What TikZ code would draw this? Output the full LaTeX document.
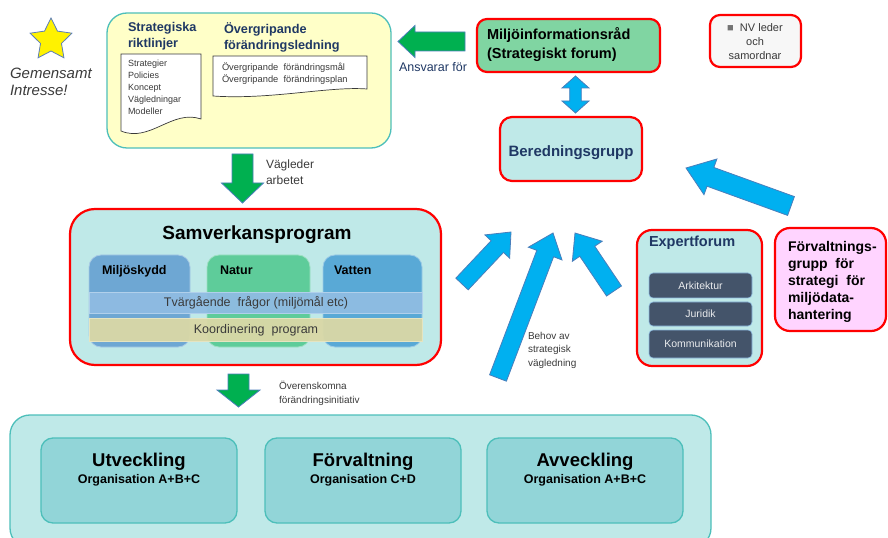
\documentclass[tikz,border=0pt]{standalone}
\usepackage{fontspec}
\setmainfont{Liberation Sans}
\usetikzlibrary{shapes.geometric,calc}
\definecolor{dkblue}{HTML}{1F3864}
\definecolor{tealb}{HTML}{4DBFBA}
\definecolor{lteal}{HTML}{BFE9E8}
\definecolor{ltyellow}{HTML}{FFFFC8}
\definecolor{mgreen}{HTML}{80D5A2}
\definecolor{pinkf}{HTML}{FFD4FF}
\definecolor{slate}{HTML}{44546A}
\definecolor{garrow}{HTML}{00B050}
\definecolor{barrow}{HTML}{00B0F0}
\definecolor{aoutline}{HTML}{4A7EBB}
\definecolor{cmilj}{HTML}{6EA7D3}
\definecolor{cnat}{HTML}{5ECC9A}
\definecolor{cvat}{HTML}{59A9D6}
\definecolor{ctvar}{HTML}{8FBCE2}
\definecolor{ckoord}{HTML}{DAD8A6}
\definecolor{corg}{HTML}{92D5D8}
\definecolor{txtgrey}{HTML}{3A3A3A}
\definecolor{starline}{HTML}{5B7DB9}
\newcommand\fs[1]{\fontsize{#1bp}{#1bp}\selectfont}
\newcommand\bx[6]{\node[#2, anchor=north west, minimum width={(#5-#3)*1bp}, minimum height={(#6-#4)*1bp}] (#1) at (#3,#4) {};}
\newcommand\blockarrow[6]{%
  \coordinate (#2-n) at ($(#3)!#6bp!(#2)$);
  \draw[#1] ($(#2)!#4bp!90:(#3)$) -- ($(#2-n)!#4bp!90:(#3)$) -- ($(#2-n)!#5bp!90:(#3)$) -- (#3)
    -- ($(#2-n)!#5bp!-90:(#3)$) -- ($(#2-n)!#4bp!-90:(#3)$) -- ($(#2)!#4bp!-90:(#3)$) -- cycle;}
\newcommand\dblarrow[6]{%
  \coordinate (#2-n1) at ($(#2)!#6bp!(#3)$);
  \coordinate (#2-n2) at ($(#3)!#6bp!(#2)$);
  \draw[#1] (#2) -- ($(#2-n1)!#5bp!90:(#3)$) -- ($(#2-n1)!#4bp!90:(#3)$) -- ($(#2-n2)!#4bp!90:(#3)$)
    -- ($(#2-n2)!#5bp!90:(#3)$) -- (#3) -- ($(#2-n2)!#5bp!-90:(#3)$) -- ($(#2-n2)!#4bp!-90:(#3)$)
    -- ($(#2-n1)!#4bp!-90:(#3)$) -- ($(#2-n1)!#5bp!-90:(#3)$) -- cycle;}
\tikzset{
  redbox/.style={draw=red, line width=2.2bp, rounded corners=#1},
  tealbox/.style={draw=tealb, line width=1.3bp, rounded corners=#1},
  docshape/.style={draw=txtgrey, line width=0.7bp, fill=white},
  garr/.style={fill=garrow, draw=aoutline, line width=0.8bp, line join=miter},
  barr/.style={fill=barrow, draw=aoutline, line width=0.8bp, line join=miter},
  tl/.style={anchor=base west},
  tc/.style={anchor=base},
  subbox/.style={fill=slate, draw=ctvar, line width=0.6bp, rounded corners=4bp},
}
\begin{document}
\begin{tikzpicture}[x=1bp,y=-1bp, every node/.style={inner sep=0pt, outer sep=0pt}]
\useasboundingbox (0,0) rectangle (888,538);

% star and common interest
\node[star, star points=5, star point ratio=2.0, minimum size=44bp, fill=yellow, draw=starline, line width=0.8bp] (star) at (51,40) {};
\node[tl, font=\fs{15}\itshape, text=txtgrey] (gem) at (10,78.5) {Gemensamt};
\node[tl, font=\fs{15}\itshape, text=txtgrey] (intr) at (10,96) {Intresse!};

% yellow box
\bx{strat}{tealbox=20bp, fill=ltyellow}{107}{13}{391}{148}
\node[tl, font=\fs{12.7}\bfseries, text=dkblue] (sr1) at (128,32) {Strategiska};
\node[tl, font=\fs{12.7}\bfseries, text=dkblue] (sr2) at (128,47.5) {riktlinjer};
\node[tl, font=\fs{12.7}\bfseries, text=dkblue] (og1) at (224,34) {Övergripande};
\node[tl, font=\fs{12.7}\bfseries, text=dkblue] (og2) at (224,50) {förändringsledning};
\draw[docshape] (121,54) -- (201,54) -- (201,119) .. controls (172,109) and (150,143) .. (121,131) -- cycle;
\draw[docshape] (213,56) -- (367,56) -- (367,89) .. controls (330,86) and (270,100) .. (213,96) -- cycle;
\foreach \t [count=\i] in {Strategier,Policies,Koncept,Vägledningar,Modeller}
  \node[tl, font=\fs{9}, text=txtgrey] (d1-\i) at (128,{54+12.2*\i}) {\t};
\node[tl, font=\fs{9.3}, text=txtgrey] (d2a) at (222,71) {Övergripande\ \ förändringsmål};
\node[tl, font=\fs{9.3}, text=txtgrey] (d2b) at (222,83) {Övergripande\ \ förändringsplan};

% green arrow to the left
\coordinate (ga1) at (465,41.5);
\coordinate (gb1) at (398,41.5);
\blockarrow{garr}{ga1}{gb1}{9.5}{16}{17}
\node[tl, font=\fs{12.5}, text=dkblue] (ansv) at (399,72) {Ansvarar för};

% Miljöinformationsråd
\bx{mir}{redbox=10bp, fill=mgreen}{477}{19}{660}{72}
\node[tl, font=\fs{14.5}\bfseries] (mir1) at (487,40) {Miljöinformationsråd};
\node[tl, font=\fs{14.5}\bfseries] (mir2) at (487,59) {(Strategiskt forum)};

% legend
\bx{leg}{redbox=10bp, fill=black!3}{710}{15}{801}{67}
\node[tc, font=\fs{11}, text=txtgrey] (leg1) at (755,32) {\textcolor{black!55}{■}\ \ NV leder};
\node[tc, font=\fs{11}, text=txtgrey] (leg2) at (755,46) {och};
\node[tc, font=\fs{11}, text=txtgrey] (leg3) at (755,60) {samordnar};

% double arrow
\coordinate (dA) at (575.5,76);
\coordinate (dB) at (575.5,113);
\dblarrow{barr}{dA}{dB}{5.8}{13.5}{12}

% Beredningsgrupp
\bx{bered}{redbox=12bp, fill=lteal}{500}{117}{642}{181}
\node[tc, font=\fs{15}\bfseries, text=dkblue] (beredt) at (571,157) {Beredningsgrupp};

% Vägleder arbetet arrow
\coordinate (ga2) at (242.5,154);
\coordinate (gb2) at (242.5,203);
\blockarrow{garr}{ga2}{gb2}{10.5}{21}{20}
\node[tl, font=\fs{12}, text=txtgrey] (vag1) at (266,169) {Vägleder};
\node[tl, font=\fs{12}, text=txtgrey] (vag2) at (266,185) {arbetet};

% Samverkansprogram
\bx{samv}{redbox=25bp, fill=lteal}{70}{209}{441}{365}
\node[tc, font=\fs{19}\bfseries] (samvt) at (257,240) {Samverkansprogram};
\bx{colm}{rounded corners=12bp, fill=cmilj, draw=cmilj!60!white, line width=0.8bp}{89}{255}{190}{347}
\bx{coln}{rounded corners=12bp, fill=cnat, draw=cnat!60!white, line width=0.8bp}{207}{255}{310}{347}
\bx{colv}{rounded corners=12bp, fill=cvat, draw=cvat!60!white, line width=0.8bp}{323}{255}{422}{347}
\node[tl, font=\fs{12.5}\bfseries] (colmt) at (102,275) {Miljöskydd};
\node[tl, font=\fs{12.5}\bfseries] (colnt) at (220,275) {Natur};
\node[tl, font=\fs{12.5}\bfseries] (colvt) at (334,275) {Vatten};
\bx{tvar}{fill=ctvar, fill opacity=0.95, draw=ctvar!70!white, line width=0.6bp}{89}{292}{422}{313}
\bx{koord}{fill=ckoord, fill opacity=0.95, draw=ckoord!70!white, line width=0.6bp}{89}{318}{422}{341}
\node[tc, font=\fs{12.5}, text=txtgrey] (tvart) at (256,306.5) {Tvärgående\ \ frågor (miljömål etc)};
\node[tc, font=\fs{12.5}, text=txtgrey] (koordt) at (256,333.5) {Koordinering\ \ program};

% Överenskomna arrow
\coordinate (ga3) at (238.5,374);
\coordinate (gb3) at (238.5,407);
\blockarrow{garr}{ga3}{gb3}{10.5}{21.5}{17}
\node[tl, font=\fs{10}, text=txtgrey] (over1) at (279,389) {Överenskomna};
\node[tl, font=\fs{10}, text=txtgrey] (over2) at (279,403.5) {förändringsinitiativ};

% bottom box
\bx{bottom}{tealbox=20bp, fill=lteal}{10}{415}{711}{548}
\bx{utv}{tealbox=12bp, fill=corg}{41}{438}{237}{523}
\bx{forv}{tealbox=12bp, fill=corg}{265}{438}{461}{523}
\bx{avv}{tealbox=12bp, fill=corg}{487}{438}{683}{523}
\node[tc, font=\fs{18.5}\bfseries] (utvt) at (139,466.5) {Utveckling};
\node[tc, font=\fs{12.5}\bfseries] (utvo) at (139,483.5) {Organisation A+B+C};
\node[tc, font=\fs{18.5}\bfseries] (forvt) at (363,466.5) {Förvaltning};
\node[tc, font=\fs{12.5}\bfseries] (forvo) at (363,483.5) {Organisation C+D};
\node[tc, font=\fs{18.5}\bfseries] (avvt) at (585,466.5) {Avveckling};
\node[tc, font=\fs{12.5}\bfseries] (avvo) at (585,483.5) {Organisation A+B+C};

% blue arrows towards Beredningsgrupp
\coordinate (ba1) at (462,284);
\coordinate (bb1) at (511,232);
\blockarrow{barr}{ba1}{bb1}{8.5}{17}{20}
\coordinate (ba2) at (498,378);
\coordinate (bb2) at (553,233);
\blockarrow{barr}{ba2}{bb2}{9}{18}{22}
\coordinate (ba3) at (614,291);
\coordinate (bb3) at (575,233);
\blockarrow{barr}{ba3}{bb3}{9}{18}{22}
\node[tl, font=\fs{10}, text=txtgrey] (beh1) at (528,340) {Behov av};
\node[tl, font=\fs{10}, text=txtgrey] (beh2) at (528,353) {strategisk};
\node[tl, font=\fs{10}, text=txtgrey] (beh3) at (528,366) {vägledning};

% Expertforum
\bx{exp}{redbox=15bp, fill=lteal}{637}{230}{762}{366}
\node[tl, font=\fs{14.5}\bfseries, text=dkblue] (expt) at (649,247) {Expertforum};
\bx{ark}{subbox}{649}{273}{752}{298}
\bx{jur}{subbox}{649}{302}{752}{326}
\bx{kom}{subbox}{649}{330}{752}{358}
\node[tc, font=\fs{10.5}, text=white!88!slate] (arkt) at (700.5,289.3) {Arkitektur};
\node[tc, font=\fs{10.5}, text=white!88!slate] (jurt) at (700.5,317.8) {Juridik};
\node[tc, font=\fs{10.5}, text=white!88!slate] (komt) at (700.5,347.8) {Kommunikation};

% Förvaltningsgrupp
\bx{fg}{redbox=15bp, fill=pinkf}{775}{228}{886}{331}
\node[tl, font=\fs{14}\bfseries] (fg1) at (788,252) {Förvaltnings-};
\node[tl, font=\fs{14}\bfseries] (fg2) at (788,269) {grupp\ \ för};
\node[tl, font=\fs{14}\bfseries] (fg3) at (788,286) {strategi\ \ för};
\node[tl, font=\fs{14}\bfseries] (fg4) at (788,303) {miljödata-};
\node[tl, font=\fs{14}\bfseries] (fg5) at (788,320) {hantering};

% big blue arrow from Förvaltningsgrupp
\coordinate (ba4) at (791,206);
\coordinate (bb4) at (686,168);
\blockarrow{barr}{ba4}{bb4}{10}{19}{26}
\end{tikzpicture}
\end{document}
